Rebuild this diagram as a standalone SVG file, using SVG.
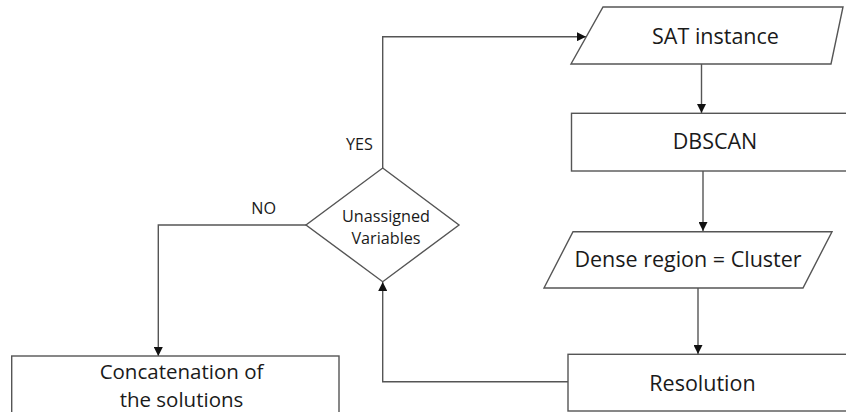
<svg xmlns="http://www.w3.org/2000/svg" width="846" height="412" viewBox="0 0 846 412">
  <defs>
    <marker id="arrow" viewBox="0 0 10 10" refX="10" refY="5" markerWidth="9" markerHeight="9" markerUnits="userSpaceOnUse" orient="auto">
      <path d="M0,0 L10,5 L0,10 z" fill="#111"/>
    </marker>
    <style>
      .shape { fill: #ffffff; stroke: #555555; stroke-width: 1.4; }
      .edge { fill: none; stroke: #555555; stroke-width: 1.4; marker-end: url(#arrow); }
      .label { font-family: "Open Sans", "Liberation Sans", sans-serif; font-size: 21.5px; fill: #1a1a1a; text-anchor: middle; }
      .small { font-family: "Open Sans", "Liberation Sans", sans-serif; font-size: 16.2px; fill: #1a1a1a; text-anchor: middle; }
      .tight { font-size: 20.5px; }
    </style>
  </defs>
  <rect width="846" height="412" fill="#ffffff"/>

  <!-- connectors -->
  <g id="connectors">
    <path class="edge" d="M701.5,64 L701.5,113"/>
    <path class="edge" d="M703,171 L703,231"/>
    <path class="edge" d="M698,288 L698,354"/>
    <path class="edge" d="M568,381.7 L382.7,381.7 L382.7,282"/>
    <path class="edge" d="M382.7,168 L382.7,36.7 L586,36.7"/>
    <path class="edge" d="M306,225 L158.3,225 L158.3,356"/>
    <text class="small" x="359.5" y="150">YES</text>
    <text class="small" x="263.7" y="214">NO</text>
  </g>

  <g id="sat-instance">
    <polygon class="shape" points="603,7 843,7 831,64 571,64"/>
    <text class="label" x="715.5" y="44">SAT instance</text>
  </g>

  <g id="dbscan">
    <rect class="shape" x="571.5" y="113.3" width="290" height="57.7"/>
    <text class="label" x="715" y="149">DBSCAN</text>
  </g>

  <g id="dense-region">
    <polygon class="shape" points="573,231.7 832,231.7 803,288 544,288"/>
    <text class="label" x="688" y="267">Dense region = Cluster</text>
  </g>

  <g id="resolution">
    <rect class="shape" x="568" y="354.3" width="300" height="56.7"/>
    <text class="label" x="702.5" y="390.5">Resolution</text>
  </g>

  <g id="unassigned-variables">
    <polygon class="shape" points="382.7,168 459,225 382.7,281.7 306,225"/>
    <text class="small" x="386" y="221.5"><tspan x="386">Unassigned</tspan><tspan x="386" dy="22.2">Variables</tspan></text>
  </g>

  <g id="concatenation">
    <rect class="shape" x="11.7" y="356" width="327.3" height="70"/>
    <text class="label tight" x="181.5" y="378.8"><tspan x="181.5">Concatenation of</tspan><tspan x="181.5" dy="28">the solutions</tspan></text>
  </g>
</svg>
